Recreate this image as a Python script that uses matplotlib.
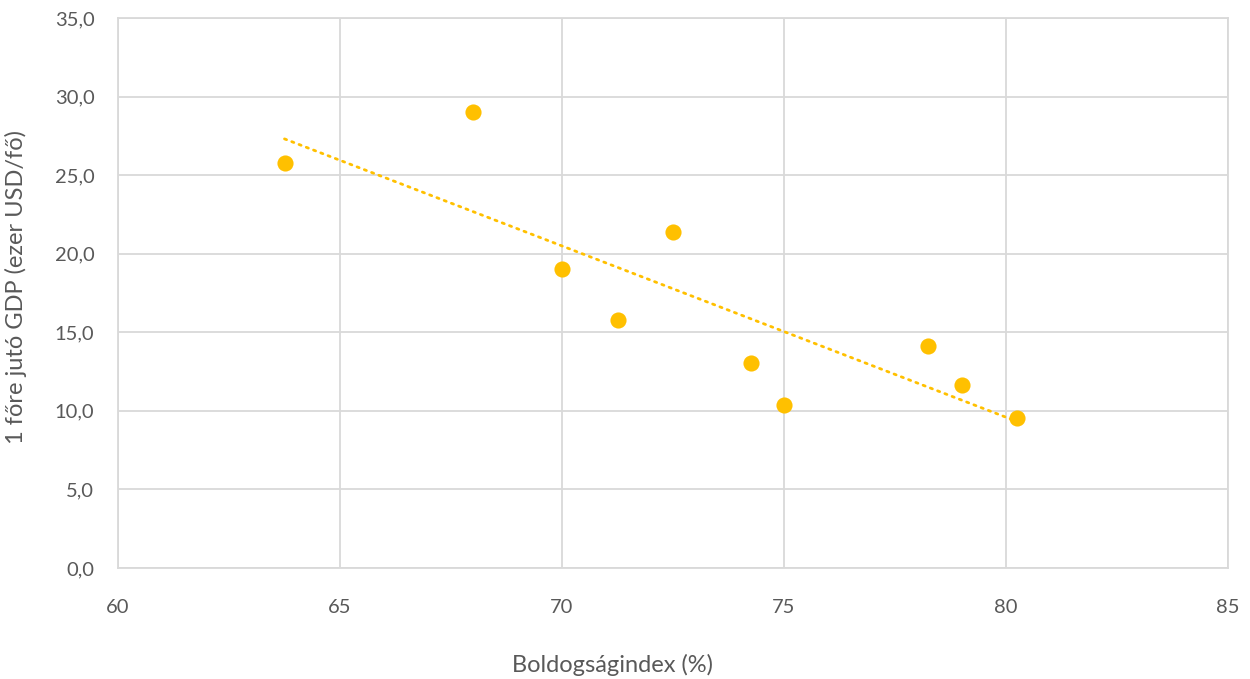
import numpy as np
import matplotlib.pyplot as plt
from matplotlib.ticker import FuncFormatter

# Boldogságindex (%) és egy főre jutó GDP (ezer USD/fő)
happiness = [63.75, 68.0, 70.0, 71.25, 72.5, 74.25, 75.0, 78.25, 79.0, 80.25]
gdp = [25.75, 29.0, 19.0, 15.8, 21.4, 13.07, 10.4, 14.15, 11.65, 9.57]

x_ticks = [60, 65, 70, 75, 80, 85]
y_ticks = [0, 5, 10, 15, 20, 25, 30, 35]

plt.rcParams['font.family'] = ['Lato', 'DejaVu Sans']

fig = plt.figure(figsize=(12.5, 6.79), dpi=100)
ax = fig.add_axes([0.0944, 0.1635, 0.888, 0.81])

ax.scatter(happiness, gdp, s=135, color='#FFC000', zorder=3, linewidths=0)

# lineáris trendvonal
k, b = np.polyfit(happiness, gdp, 1)
xs = np.array([min(happiness), max(happiness)])
ax.plot(xs, k * xs + b, color='#FFC000', linewidth=2.0,
        linestyle=(0, (0.8, 2.0)), dash_capstyle='round', zorder=2)

ax.set_xlim(60, 85)
ax.set_ylim(0, 35)
ax.set_xticks(x_ticks)
ax.set_yticks(y_ticks)
ax.yaxis.set_major_formatter(FuncFormatter(lambda v, p: f'{v:.1f}'.replace('.', ',')))

ax.grid(True, color='#d9d9d9', linewidth=1.3)
ax.set_axisbelow(True)
for s in ax.spines.values():
    s.set_color('#d9d9d9')
    s.set_linewidth(1.3)
ax.tick_params(length=0, labelsize=14.5, labelcolor='#595959')
ax.tick_params(axis='y', pad=17)
ax.tick_params(axis='x', pad=22)

fig.text(613 / 1250, 1 - 665 / 679, 'Boldogságindex (%)', fontsize=17,
         color='#595959', ha='center', va='center')
fig.text(16 / 1250, 1 - 287 / 679, '1 főre jutó GDP (ezer USD/fő)', fontsize=17,
         color='#595959', ha='center', va='center', rotation=90)

fig.savefig('out.png', dpi=100)
